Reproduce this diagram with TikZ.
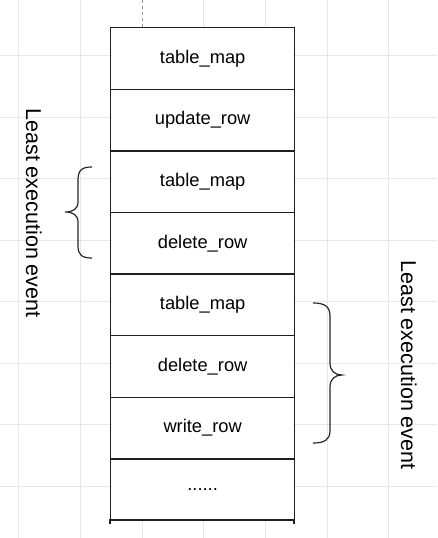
\documentclass[tikz,border=0pt]{standalone}
\usepackage{fontspec}
\setmainfont{Liberation Sans}
\begin{document}
\begin{tikzpicture}[x=1pt,y=-1pt,
  gridline/.style={draw=black!9,line width=0.8pt},
  evbox/.style={draw=black!88,line width=1.3pt,fill=white,minimum width=184pt,minimum height=61.6pt,inner sep=0pt,anchor=north west,font=\fontsize{18.3}{21}\selectfont},
  bracepath/.style={draw=black!85,line width=1.2pt},
  sidelabel/.style={font=\fontsize{21.5}{24}\selectfont,rotate=-90,inner sep=0pt,anchor=base}]
\useasboundingbox (0,0) rectangle (437,538);
\fill[white] (0,0) rectangle (437,538);
% grid
\foreach \gx in {18,80,203,265,327,388} \draw[gridline] (\gx,0) -- (\gx,538);
\draw[gridline] (142,27) -- (142,538);
\foreach \gy in {55,117,178,240,301,363,424,486} \draw[gridline] (0,\gy) -- (437,\gy);
\draw[black!40,dashed,line width=0.8pt] (142,0) -- (142,27);
% boxes
\node[evbox] (b1) at (110,27) {table\_map};
\node[evbox] (b2) at (110,88.6) {update\_row};
\node[evbox] (b3) at (110,150.2) {table\_map};
\node[evbox] (b4) at (110,211.8) {delete\_row};
\node[evbox] (b5) at (110,273.4) {table\_map};
\node[evbox] (b6) at (110,335) {delete\_row};
\node[evbox] (b7) at (110,396.6) {write\_row};
\node[evbox] (b8) at (110,458.2) {......};
\draw[draw=black!88,line width=1.3pt] (110,524) -- (110,519.8) -- (294,519.8) -- (294,524);
% left brace
\draw[bracepath] (92,167) .. controls (82,167) and (78,170) .. (78,180) -- (78,202)
  .. controls (78,209) and (73,212) .. (65,212)
  .. controls (73,212) and (78,215) .. (78,222) -- (78,246)
  .. controls (78,255) and (82,258) .. (92,258);
% right brace
\draw[bracepath] (313,303) .. controls (324,303) and (330,306) .. (330,316) -- (330,363)
  .. controls (330,371) and (335,375) .. (342,375)
  .. controls (335,375) and (330,379) .. (330,387) -- (330,431)
  .. controls (330,440) and (324,443) .. (313,443);
% labels
\node[sidelabel] (lleft) at (26,213) {Least execution event};
\node[sidelabel] (lright) at (401,365) {Least execution event};
\end{tikzpicture}
\end{document}
